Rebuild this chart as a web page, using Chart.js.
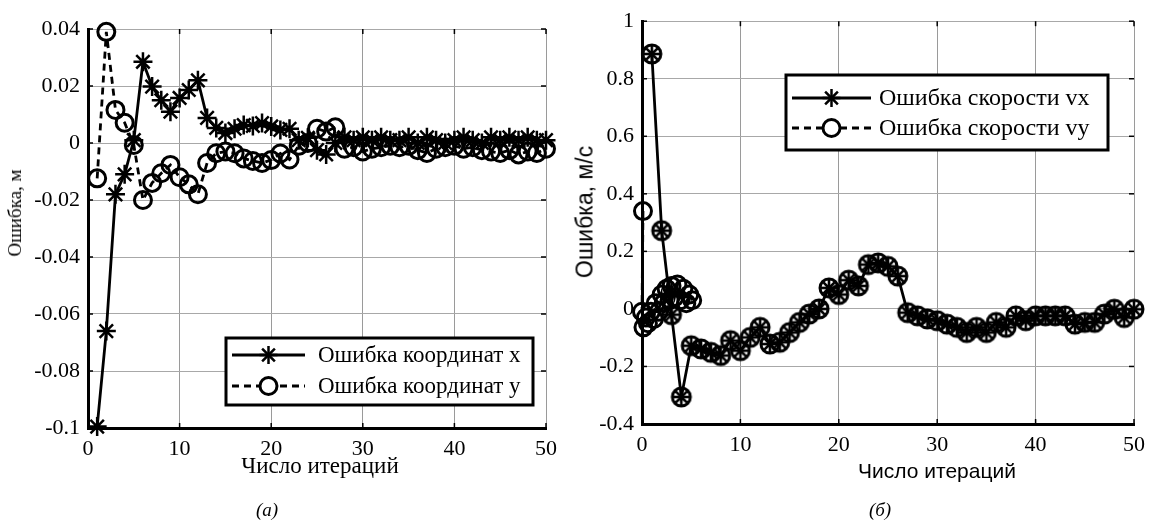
<!DOCTYPE html>
<html>
<head>
<meta charset="utf-8">
<script src="https://cdn.jsdelivr.net/npm/chart.js@4.4.1/dist/chart.umd.min.js"></script>
<style>
  body { margin: 0; background: #fff; width: 1153px; height: 523px; position: relative; overflow: hidden; }
  .box { position: absolute; top: 0; height: 523px; }
  .lbl { position: absolute; white-space: nowrap; color: #000; transform: translate(-50%, -50%); }
  .rot { transform: translate(-50%, -50%) rotate(-90deg); }
  .serif { font-family: "Liberation Serif", serif; }
  .sans { font-family: "Liberation Sans", sans-serif; }
</style>
</head>
<body>
<div class="box" style="left:0;width:580px"><canvas id="chartA" width="580" height="523"></canvas></div>
<div class="box" style="left:580px;width:573px"><canvas id="chartB" width="573" height="523"></canvas></div>

<div class="lbl rot serif" style="left:15px;top:213px;font-size:19px">Ошибка, м</div>
<div class="lbl serif" style="left:320px;top:466px;font-size:23px">Число итераций</div>
<div class="lbl rot sans" style="left:585px;top:212px;font-size:23px">Ошибка, м/с</div>
<div class="lbl sans" style="left:937px;top:471px;font-size:21px">Число итераций</div>
<div class="lbl serif" style="left:267px;top:510px;font-size:19px;font-style:italic">(a)</div>
<div class="lbl serif" style="left:880px;top:510px;font-size:19px;font-style:italic">(б)</div>

<script>
// ---- data: chart (a), position error ----
const iterations = Array.from({ length: 50 }, (_, i) => i + 1);
const errX = [
  -0.0995, -0.066, -0.018, -0.011, 0.001, 0.0285, 0.0198, 0.015, 0.011, 0.0158,
  0.0186, 0.022, 0.0088, 0.0053, 0.0035, 0.005, 0.0063, 0.006, 0.007, 0.0058,
  0.0046, 0.005, 0.001, 0.0018, -0.0025, -0.004, 0.0, 0.002, 0.001, 0.002,
  0.001, 0.002, 0.001, 0.001, 0.002, 0.0, 0.002, 0.001, 0.0, 0.001,
  0.002, 0.001, 0.0, 0.002, 0.001, 0.002, 0.001, 0.002, 0.001, 0.001
];
const errY = [
  -0.0124, 0.039, 0.0116, 0.0071, -0.0007, -0.02, -0.014, -0.0106, -0.0077, -0.012,
  -0.0145, -0.018, -0.007, -0.0036, -0.003, -0.0036, -0.0054, -0.0063, -0.007, -0.006,
  -0.0037, -0.0058, -0.001, 0.0, 0.005, 0.004, 0.0055, -0.002, -0.0015, -0.003,
  -0.002, -0.0015, -0.001, -0.0015, -0.001, -0.0025, -0.0035, -0.002, -0.0015, -0.001,
  -0.002, -0.0015, -0.0025, -0.003, -0.0035, -0.0025, -0.004, -0.003, -0.0035, -0.002
];

// ---- data: chart (б), velocity error ----
const velX = [
  0.886, 0.272, -0.02, -0.306, -0.128, -0.139, -0.151, -0.162, -0.11, -0.145,
  -0.099, -0.064, -0.122, -0.116, -0.082, -0.047, -0.018, 0.0, 0.073, 0.05,
  0.1, 0.08, 0.154, 0.16, 0.148, 0.114, -0.013, -0.024, -0.035, -0.041,
  -0.053, -0.064, -0.082, -0.064, -0.082, -0.047, -0.064, -0.024, -0.041, -0.024,
  -0.024, -0.024, -0.024, -0.053, -0.047, -0.047, -0.018, -0.001, -0.03, -0.001
];
const iterVy = [0.1, 0.0, 0.15, 0.4, 0.6, 0.9, 1.2, 1.4, 1.7, 2.0, 2.2, 2.5, 2.8, 3.0, 3.3, 3.6, 3.9, 4.2, 4.5, 4.8, 5.1];
const velY = [0.34, -0.01, -0.064, -0.03, -0.05, -0.01, -0.035, 0.02, -0.01, 0.05, 0.02, 0.07, 0.03, 0.08, 0.04, 0.085, 0.03, 0.07, 0.02, 0.05, 0.03];

const xTicks = [0, 10, 20, 30, 40, 50];
const yTicksA = [-0.1, -0.08, -0.06, -0.04, -0.02, 0, 0.02, 0.04];
const yTicksB = [-0.4, -0.2, 0, 0.2, 0.4, 0.6, 0.8, 1];

Chart.defaults.font.family = "Liberation Serif";
Chart.defaults.color = "#000";

function toPoints(xs, ys) {
  return ys.map((v, i) => ({ x: xs[i], y: v }));
}

// star + circle marker used on the vx curve
function ringStar() {
  const c = document.createElement("canvas");
  c.width = 26; c.height = 26;
  const g = c.getContext("2d");
  g.strokeStyle = "#000";
  g.lineWidth = 3;
  g.beginPath(); g.arc(13, 13, 9, 0, Math.PI * 2); g.stroke();
  g.lineWidth = 2.6;
  for (let k = 0; k < 8; k++) {
    const a = k * Math.PI / 4;
    g.beginPath(); g.moveTo(13, 13); g.lineTo(13 + 8 * Math.cos(a), 13 + 8 * Math.sin(a)); g.stroke();
  }
  return c;
}

function drawStar(ctx, x, y, r) {
  for (let k = 0; k < 8; k++) {
    const a = k * Math.PI / 4;
    ctx.beginPath(); ctx.moveTo(x, y); ctx.lineTo(x + r * Math.cos(a), y + r * Math.sin(a)); ctx.stroke();
  }
}

// inward tick marks on all four sides
const frameTicks = {
  id: "frameTicks",
  afterDraw(chart) {
    const { ctx, chartArea: a, scales } = chart;
    ctx.save();
    ctx.strokeStyle = "#000";
    ctx.lineWidth = 1.5;
    scales.x.ticks.forEach(t => {
      const px = scales.x.getPixelForValue(t.value);
      ctx.beginPath(); ctx.moveTo(px, a.top); ctx.lineTo(px, a.top + 5); ctx.stroke();
      ctx.beginPath(); ctx.moveTo(px, a.bottom); ctx.lineTo(px, a.bottom - 5); ctx.stroke();
    });
    scales.y.ticks.forEach(t => {
      const py = scales.y.getPixelForValue(t.value);
      ctx.beginPath(); ctx.moveTo(a.left, py); ctx.lineTo(a.left + 5, py); ctx.stroke();
      ctx.beginPath(); ctx.moveTo(a.right, py); ctx.lineTo(a.right - 5, py); ctx.stroke();
    });
    ctx.restore();
  }
};

// boxed legend placed inside the plot
const boxLegend = {
  id: "boxLegend",
  afterDatasetsDraw(chart, args, o) {
    const ctx = chart.ctx;
    ctx.save();
    ctx.fillStyle = "#fff";
    ctx.fillRect(o.x, o.y, o.w, o.h);
    ctx.strokeStyle = "#000";
    ctx.lineWidth = 3;
    ctx.strokeRect(o.x, o.y, o.w, o.h);
    o.rows.forEach(r => {
      ctx.lineWidth = 2.8;
      ctx.setLineDash(r.dashed ? [7, 5] : []);
      ctx.beginPath(); ctx.moveTo(o.lineFrom, r.y); ctx.lineTo(o.lineTo, r.y); ctx.stroke();
      ctx.setLineDash([]);
      const mx = (o.lineFrom + o.lineTo) / 2;
      if (r.marker === "star") {
        ctx.lineWidth = 2.5;
        drawStar(ctx, mx, r.y, 9);
      } else {
        ctx.lineWidth = 3;
        ctx.fillStyle = "#fff";
        ctx.beginPath(); ctx.arc(mx, r.y, 8.5, 0, Math.PI * 2); ctx.fill(); ctx.stroke();
      }
      ctx.fillStyle = "#000";
      ctx.font = o.fontSize + "px 'Liberation Serif'";
      ctx.textBaseline = "middle";
      ctx.fillText(r.label, o.textX, r.y + 1);
    });
    ctx.restore();
  }
};

function axes(yMin, yMax, yLabels, yWidth, xHeight) {
  return {
    x: {
      type: "linear", min: 0, max: 50,
      afterBuildTicks: s => { s.ticks = xTicks.map(v => ({ value: v })); },
      afterFit: s => { s.height = xHeight; },
      grid: { color: "#9a9a9a", lineWidth: 1, drawTicks: false },
      border: { color: "#000", width: 3 },
      ticks: { padding: 8, font: { size: 22 }, maxRotation: 0 }
    },
    y: {
      min: yMin, max: yMax,
      afterBuildTicks: s => { s.ticks = yLabels.map(v => ({ value: v })); },
      afterFit: s => { s.width = yWidth; },
      grid: { color: "#a8a8a8", lineWidth: 1, drawTicks: false },
      border: { color: "#000", width: 3 },
      ticks: {
        padding: 8, font: { size: 22 },
        callback: v => String(Number(v.toFixed(2)))
      }
    }
  };
}

// ---- chart (a) ----
new Chart(document.getElementById("chartA"), {
  type: "line",
  data: {
    datasets: [
      {
        label: "Ошибка координат x",
        data: toPoints(iterations, errX),
        borderColor: "#000", borderWidth: 2.8,
        pointStyle: "star", pointRadius: 9.5, pointBorderWidth: 2.5,
        pointBorderColor: "#000", pointBackgroundColor: "#000",
        tension: 0, clip: false
      },
      {
        label: "Ошибка координат y",
        data: toPoints(iterations, errY),
        borderColor: "#000", borderWidth: 2.8, borderDash: [7, 5],
        pointStyle: "circle", pointRadius: 8.5, pointBorderWidth: 3,
        pointBorderColor: "#000", pointBackgroundColor: "rgba(0,0,0,0)",
        tension: 0, clip: false
      }
    ]
  },
  options: {
    responsive: false, animation: false,
    layout: { padding: { left: 0, top: 29, right: 34, bottom: 0 }, autoPadding: false },
    plugins: {
      legend: { display: false }, tooltip: { enabled: false },
      boxLegend: {
        x: 226, y: 338, w: 307, h: 67, lineFrom: 232, lineTo: 305, textX: 318, fontSize: 23,
        rows: [
          { label: "Ошибка координат x", y: 355, marker: "star", dashed: false },
          { label: "Ошибка координат y", y: 386, marker: "circle", dashed: true }
        ]
      }
    },
    scales: axes(-0.1, 0.04, yTicksA, 88, 95)
  },
  plugins: [frameTicks, boxLegend]
});

// ---- chart (б) ----
new Chart(document.getElementById("chartB"), {
  type: "line",
  data: {
    datasets: [
      {
        label: "Ошибка скорости vy",
        data: toPoints(iterVy, velY),
        borderColor: "#000", borderWidth: 2.8, borderDash: [7, 5],
        pointStyle: "circle", pointRadius: 8.5, pointBorderWidth: 3,
        pointBorderColor: "#000", pointBackgroundColor: "rgba(0,0,0,0)",
        tension: 0, clip: false
      },
      {
        label: "Ошибка скорости vx",
        data: toPoints(iterations, velX),
        borderColor: "#000", borderWidth: 2.8,
        pointStyle: ringStar(),
        tension: 0, clip: false
      }
    ]
  },
  options: {
    responsive: false, animation: false,
    layout: { padding: { left: 0, top: 17, right: 16, bottom: 0 }, autoPadding: false },
    plugins: {
      legend: { display: false }, tooltip: { enabled: false },
      boxLegend: {
        x: 206, y: 75, w: 322, h: 75, lineFrom: 212, lineTo: 291, textX: 299, fontSize: 24,
        rows: [
          { label: "Ошибка скорости vx", y: 98, marker: "star", dashed: false },
          { label: "Ошибка скорости vy", y: 128, marker: "circle", dashed: true }
        ]
      }
    },
    scales: axes(-0.4, 1, yTicksB, 62, 99)
  },
  plugins: [frameTicks, boxLegend]
});
</script>
</body>
</html>
